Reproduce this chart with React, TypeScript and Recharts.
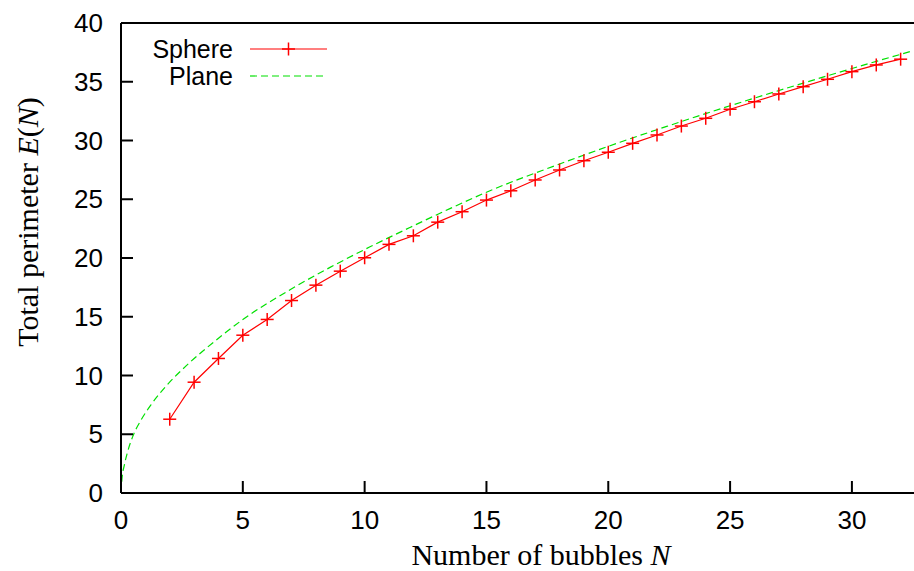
import { LineChart, Line, XAxis, YAxis, Legend } from 'recharts';

// sphere: minimal total perimeter found for N bubbles
const sphereN = [2, 3, 4, 5, 6, 7, 8, 9, 10, 11, 12, 13, 14, 15, 16, 17, 18, 19, 20, 21, 22, 23, 24, 25, 26, 27, 28, 29, 30, 31, 32];
const sphereE = [6.28, 9.43, 11.45, 13.43, 14.77, 16.38, 17.69, 18.88, 20.02, 21.16, 21.89, 23.05, 23.94, 24.93, 25.72, 26.64, 27.49, 28.28, 29.0, 29.76, 30.47, 31.23, 31.89, 32.66, 33.3, 33.96, 34.58, 35.21, 35.86, 36.43, 36.92];

// plane (hexagonal) reference curve
const planeN = [0, 0.04, 0.14, 0.27, 0.48, 0.82, 1.23, 1.85, 2.74, 3.9, 5.06, 6.94, 8.58, 10.22, 11.86, 13.5, 15.0, 17.74, 20.48, 22.4, 25.14, 27.87, 29.79, 32.53];
const planeE = [0, 1.2, 2.4, 3.5, 4.8, 6.2, 7.5, 9.1, 10.95, 13.0, 14.85, 17.3, 19.2, 20.95, 22.6, 24.2, 25.6, 27.8, 29.85, 31.2, 33.05, 34.8, 36.0, 37.65];

const xTicks = [0, 5, 10, 15, 20, 25, 30];
const yTicks = [0, 5, 10, 15, 20, 25, 30, 35, 40];

const sphereData = sphereN.map((n, i) => ({ n, e: sphereE[i] }));
const planeData = planeN.map((n, i) => ({ n, e: planeE[i] }));

const RED = '#ff0000';
const GREEN = '#00e000';
const sans = '"Liberation Sans", Arial, sans-serif';
const serif = '"Liberation Serif", "Times New Roman", serif';

const axisLine = { stroke: '#000', strokeWidth: 2 };
const tickFont = { fontFamily: sans, fontSize: 26, fill: '#000' };

const PlusDot = (props: any) => {
  const { cx, cy, index } = props;
  if (cx == null || cy == null) return <g key={index} />;
  return (
    <g key={index}>
      <line x1={cx - 6.5} y1={cy} x2={cx + 6.5} y2={cy} stroke={RED} strokeWidth={1.5} />
      <line x1={cx} y1={cy - 6.5} x2={cx} y2={cy + 6.5} stroke={RED} strokeWidth={1.5} />
    </g>
  );
};

const XTitle = () => (
  <text x={541} y={565} textAnchor="middle" fontFamily={serif} fontSize={30} fill="#000">
    Number of bubbles <tspan fontStyle="italic">N</tspan>
  </text>
);

const YTitle = () => (
  <text transform="translate(38,222) rotate(-90)" textAnchor="middle" fontFamily={serif} fontSize={30} fill="#000">
    Total perimeter <tspan fontStyle="italic">E</tspan>(<tspan fontStyle="italic">N</tspan>)
  </text>
);

const KeyBox = () => (
  <svg width={220} height={62}>
    <text x={103} y={28} textAnchor="end" fontFamily={sans} fontSize={25} fill="#000">Sphere</text>
    <line x1={120} y1={19} x2={197} y2={19} stroke={RED} strokeWidth={1.2} />
    <line x1={152} y1={19} x2={165} y2={19} stroke={RED} strokeWidth={1.5} />
    <line x1={158.5} y1={12.5} x2={158.5} y2={25.5} stroke={RED} strokeWidth={1.5} />
    <text x={103} y={55} textAnchor="end" fontFamily={sans} fontSize={25} fill="#000">Plane</text>
    <line x1={120} y1={46} x2={197} y2={46} stroke={GREEN} strokeWidth={1.2} strokeDasharray="7 4" />
  </svg>
);

export default function App() {
  return (
    <div style={{ position: 'absolute', left: 0, top: 0, width: 914, height: 571, overflow: 'hidden', background: '#fff' }}>
      <LineChart width={930} height={571} margin={{ top: 0, right: 0, bottom: 0, left: 0 }}>
        <XAxis
          xAxisId="bottom"
          dataKey="n"
          type="number"
          domain={[0, 33]}
          allowDataOverflow
          ticks={xTicks}
          height={78}
          tickSize={-12}
          tickMargin={30}
          tick={tickFont}
          axisLine={axisLine}
          tickLine={axisLine}
          label={<XTitle />}
        />
        <XAxis
          xAxisId="top"
          orientation="top"
          dataKey="n"
          type="number"
          domain={[0, 33]}
          allowDataOverflow
          ticks={xTicks}
          height={23}
          tickSize={-12}
          tick={false}
          axisLine={axisLine}
          tickLine={axisLine}
        />
        <YAxis
          yAxisId="left"
          type="number"
          domain={[0, 40]}
          ticks={yTicks}
          width={121}
          tickSize={-12}
          tickMargin={30}
          tick={tickFont}
          axisLine={axisLine}
          tickLine={axisLine}
          label={<YTitle />}
        />
        <YAxis
          yAxisId="right"
          orientation="right"
          type="number"
          domain={[0, 40]}
          ticks={yTicks}
          width={5}
          tickSize={-12}
          tick={false}
          axisLine={axisLine}
          tickLine={axisLine}
        />
        <Legend
          layout="vertical"
          align="center"
          verticalAlign="middle"
          content={() => <KeyBox />}
          wrapperStyle={{ left: 130, top: 30, width: 220, height: 62 }}
        />
        <Line
          xAxisId="bottom"
          yAxisId="left"
          data={planeData}
          dataKey="e"
          type="monotone"
          stroke={GREEN}
          strokeWidth={1.2}
          strokeDasharray="7 4"
          dot={false}
          isAnimationActive={false}
        />
        <Line
          xAxisId="bottom"
          yAxisId="left"
          data={sphereData}
          dataKey="e"
          type="linear"
          stroke={RED}
          strokeWidth={1.2}
          dot={PlusDot}
          activeDot={false}
          isAnimationActive={false}
        />
      </LineChart>
    </div>
  );
}
